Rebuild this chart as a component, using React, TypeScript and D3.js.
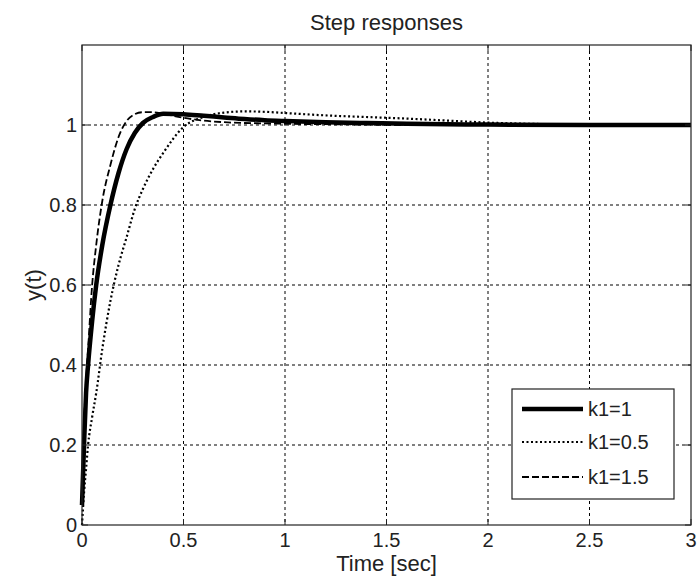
import * as d3 from "d3";

// time samples (sec) and the three step responses
const time = [0, 0.01, 0.02, 0.03, 0.05, 0.07, 0.1, 0.14, 0.18, 0.22, 0.26, 0.3, 0.35, 0.4, 0.5, 0.6, 0.7, 0.8, 0.9, 1.0, 1.2, 1.4, 1.6, 1.8, 2.0, 2.5, 3.0];
const yK1 = [0.05, 0.2, 0.33, 0.4, 0.51, 0.6, 0.7, 0.8, 0.88, 0.94, 0.98, 1.005, 1.02, 1.028, 1.027, 1.023, 1.019, 1.015, 1.012, 1.01, 1.007, 1.005, 1.003, 1.002, 1.001, 1.0, 1.0];
const yK05 = [0.0, 0.08, 0.14, 0.2, 0.27, 0.33, 0.44, 0.56, 0.65, 0.72, 0.79, 0.84, 0.89, 0.93, 0.995, 1.02, 1.031, 1.034, 1.033, 1.03, 1.024, 1.02, 1.016, 1.011, 1.006, 1.001, 1.0];
const yK15 = [0.05, 0.25, 0.36, 0.44, 0.6, 0.7, 0.81, 0.9, 0.97, 1.01, 1.027, 1.032, 1.032, 1.028, 1.018, 1.011, 1.007, 1.005, 1.004, 1.003, 1.002, 1.001, 1.0, 1.0, 1.0, 1.0, 1.0];

const xTicks = [0, 0.5, 1, 1.5, 2, 2.5, 3];
const yTicks = [0, 0.2, 0.4, 0.6, 0.8, 1];

const series = [
  { name: "k1=1", values: yK1, width: 4.5, dash: "none" },
  { name: "k1=0.5", values: yK05, width: 2.2, dash: "2,2.5" },
  { name: "k1=1.5", values: yK15, width: 1.8, dash: "7,3" },
];

const W = 697;
const H = 581;
const left = 82, right = 691, top = 45, bottom = 525;
const font = "'Liberation Sans', Arial, sans-serif";

export default function App() {
  const x = d3.scaleLinear().domain([0, 3]).range([left, right]);
  const y = d3.scaleLinear().domain([0, 1.2]).range([bottom, top]);

  const line = d3
    .line<number>()
    .x((_, i) => x(time[i]))
    .y((d) => y(d))
    .curve(d3.curveMonotoneX);

  const legX = 512, legY = 389, legW = 162, legH = 110;
  const rowY = [409, 442, 477];

  return (
    <svg width={W} height={H} style={{ position: "absolute", left: 0, top: 0, background: "#fff" }} fontFamily={font}>
      <rect x={0} y={0} width={W} height={H} fill="#fff" />
      <rect x={left} y={top} width={right - left} height={bottom - top} fill="#fff" />

      {/* grid */}
      <g stroke="#000" strokeWidth={1} strokeDasharray="3,3">
        {xTicks.slice(1, -1).map((t) => (
          <line key={"gx" + t} x1={x(t)} x2={x(t)} y1={top} y2={bottom} />
        ))}
        {yTicks.slice(1).map((t) => (
          <line key={"gy" + t} x1={left} x2={right} y1={y(t)} y2={y(t)} />
        ))}
      </g>

      {/* curves */}
      <g fill="none" stroke="#000">
        {series.map((s) => (
          <path key={s.name} d={line(s.values) ?? ""} strokeWidth={s.width} strokeDasharray={s.dash} />
        ))}
      </g>

      {/* inward ticks */}
      <g stroke="#222" strokeWidth={1}>
        {xTicks.map((t) => (
          <g key={"tx" + t}>
            <line x1={x(t)} x2={x(t)} y1={bottom} y2={bottom - 6} />
            <line x1={x(t)} x2={x(t)} y1={top} y2={top + 6} />
          </g>
        ))}
        {yTicks.map((t) => (
          <g key={"ty" + t}>
            <line x1={left} x2={left + 6} y1={y(t)} y2={y(t)} />
            <line x1={right} x2={right - 6} y1={y(t)} y2={y(t)} />
          </g>
        ))}
      </g>

      <rect x={left} y={top} width={right - left} height={bottom - top} fill="none" stroke="#222" strokeWidth={1.2} />

      {/* tick labels */}
      <g fontSize={20} fill="#222">
        {xTicks.map((t) => (
          <text key={"lx" + t} x={x(t)} y={bottom + 22} textAnchor="middle">
            {t}
          </text>
        ))}
        {yTicks.map((t) => (
          <text key={"ly" + t} x={left - 5} y={y(t) + 7} textAnchor="end">
            {t}
          </text>
        ))}
      </g>

      <text x={(left + right) / 2} y={30} textAnchor="middle" fontSize={22} fill="#222">
        Step responses
      </text>
      <text x={(left + right) / 2} y={571} textAnchor="middle" fontSize={22} fill="#222">
        Time [sec]
      </text>
      <text transform={`translate(41,${(top + bottom) / 2}) rotate(-90)`} textAnchor="middle" fontSize={22} fill="#222">
        y(t)
      </text>

      {/* legend */}
      <rect x={legX} y={legY} width={legW} height={legH} fill="#fff" stroke="#222" strokeWidth={1.2} />
      {series.map((s, i) => (
        <g key={"lg" + s.name}>
          <line x1={522} x2={583} y1={rowY[i]} y2={rowY[i]} stroke="#000" strokeWidth={s.width} strokeDasharray={s.dash} />
          <text x={588} y={rowY[i] + 7} fontSize={20} fill="#222">
            {s.name}
          </text>
        </g>
      ))}
    </svg>
  );
}
